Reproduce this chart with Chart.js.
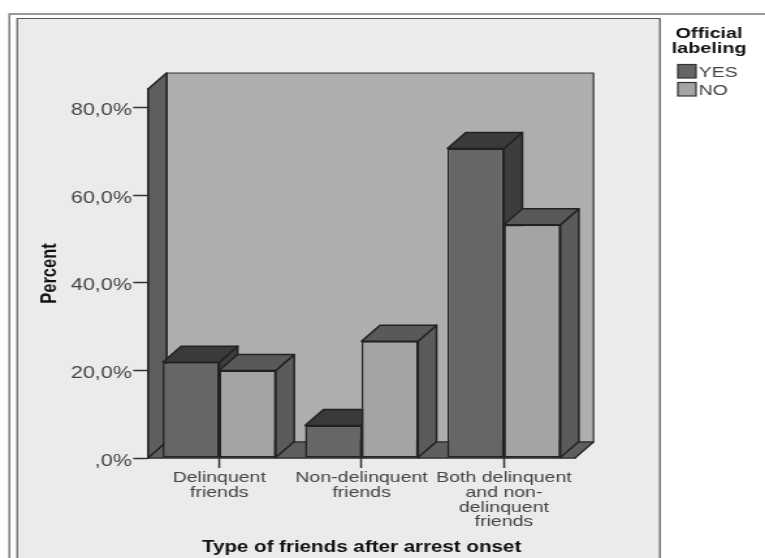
<!DOCTYPE html>
<html>
<head>
<meta charset="utf-8">
<title>Type of friends after arrest onset</title>
<style>
  html, body { margin: 0; padding: 0; background: #fff; overflow: hidden; width: 765px; height: 558px; }
  /* the chart is laid out narrow and widened as a whole, glyphs included */
  #chart { display: block; transform: scaleX(1.301); transform-origin: 0 0; }
</style>
<script src="https://cdn.jsdelivr.net/npm/chart.js@4"></script>
</head>
<body>
<canvas id="chart" width="588" height="558"></canvas>
<script>
const categories = [
    ['Delinquent', 'friends'],
    ['Non-delinquent', 'friends'],
    ['Both delinquent', 'and non-', 'delinquent', 'friends']
];
const seriesNames = ['YES', 'NO'];
const yesValues = [21.9, 7.4, 70.7];
const noValues = [20.0, 26.7, 53.3];
const yTickLabels = [',0%', '20,0%', '40,0%', '60,0%', '80,0%'];

const FONT = '"Liberation Sans", Arial, sans-serif';
const DEPTH_X = 14.2;
const DEPTH_Y = 16;
const EDGE = '#222';

const frontColors = ['#666666', '#a4a4a4'];
const topColors = ['#3a3a3a', '#595959'];
const sideColors = ['#3d3d3d', '#5b5b5b'];

function poly(ctx, pts, fill, stroke, width) {
    ctx.beginPath();
    pts.forEach((p, i) => i ? ctx.lineTo(p[0], p[1]) : ctx.moveTo(p[0], p[1]));
    ctx.closePath();
    if (fill) { ctx.fillStyle = fill; ctx.fill(); }
    if (stroke) { ctx.strokeStyle = stroke; ctx.lineWidth = width || 1.5; ctx.stroke(); }
}

// Page frames and panel background
const framePlugin = {
    id: 'frames',
    beforeDraw(chart) {
        const ctx = chart.ctx;
        ctx.save();
        ctx.fillStyle = '#fff';
        ctx.fillRect(0, 0, chart.width, chart.height);
        ctx.strokeStyle = '#777';
        ctx.lineWidth = 1.5;
        ctx.beginPath();
        ctx.moveTo(7.2, 558);
        ctx.lineTo(7.2, 14);
        ctx.lineTo(588, 14);
        ctx.stroke();
        ctx.fillStyle = '#ebebeb';
        ctx.fillRect(13.2, 18.5, 494, 540);
        ctx.strokeStyle = '#555';
        ctx.lineWidth = 1.2;
        ctx.beginPath();
        ctx.moveTo(13.2, 558);
        ctx.lineTo(13.2, 18.5);
        ctx.lineTo(507.2, 18.5);
        ctx.lineTo(507.2, 558);
        ctx.stroke();
        ctx.restore();
    }
};

// Back wall, left wall and floor of the box, then the top and side faces of each bar
const boxPlugin = {
    id: 'box3d',
    beforeDatasetsDraw(chart) {
        const ctx = chart.ctx;
        const { left, right, top, bottom } = chart.chartArea;
        ctx.save();
        ctx.lineJoin = 'round';
        poly(ctx, [[left + DEPTH_X, top - DEPTH_Y], [right + DEPTH_X, top - DEPTH_Y],
                   [right + DEPTH_X, bottom - DEPTH_Y], [left + DEPTH_X, bottom - DEPTH_Y]], '#aeaeae', '#333', 1.2);
        poly(ctx, [[left, top], [left + DEPTH_X, top - DEPTH_Y],
                   [left + DEPTH_X, bottom - DEPTH_Y], [left, bottom]], '#5e5e5e', EDGE, 1.5);
        poly(ctx, [[left, bottom], [left + DEPTH_X, bottom - DEPTH_Y],
                   [right + DEPTH_X, bottom - DEPTH_Y], [right, bottom]], '#5e5e5e', EDGE, 1.2);

        categories.forEach((c, i) => {
            chart.data.datasets.forEach((ds, d) => {
                const bar = chart.getDatasetMeta(d).data[i];
                const l = bar.x - bar.width / 2;
                const r = bar.x + bar.width / 2;
                poly(ctx, [[r, bar.y], [r + DEPTH_X, bar.y - DEPTH_Y],
                           [r + DEPTH_X, bar.base - DEPTH_Y], [r, bar.base]], sideColors[d], EDGE);
                poly(ctx, [[l, bar.y], [l + DEPTH_X, bar.y - DEPTH_Y],
                           [r + DEPTH_X, bar.y - DEPTH_Y], [r, bar.y]], topColors[d], EDGE);
            });
        });
        ctx.restore();
    }
};

// Legend on the right with a two line heading
const legendPlugin = {
    id: 'sideLegend',
    afterDraw(chart) {
        const ctx = chart.ctx;
        ctx.save();
        ctx.textAlign = 'center';
        ctx.textBaseline = 'middle';
        ctx.fillStyle = '#111';
        ctx.font = 'bold 15.2px ' + FONT;
        ctx.fillText('Official', 545, 34);
        ctx.fillText('labeling', 545, 49);
        ctx.textAlign = 'left';
        ctx.font = '15px ' + FONT;
        chart.data.datasets.forEach((ds, d) => {
            const y = 64.5 + d * 18;
            ctx.fillStyle = frontColors[d];
            ctx.fillRect(521, y, 14, 13.5);
            ctx.strokeStyle = '#333';
            ctx.lineWidth = 1.2;
            ctx.strokeRect(521, y, 14, 13.5);
            ctx.fillStyle = '#444';
            ctx.fillText(ds.label, 537, y + 8.5);
        });
        ctx.restore();
    }
};

new Chart(document.getElementById('chart'), {
    type: 'bar',
    data: {
        labels: categories,
        datasets: [
            { label: seriesNames[0], data: yesValues, backgroundColor: frontColors[0] },
            { label: seriesNames[1], data: noValues, backgroundColor: frontColors[1] }
        ]
    },
    plugins: [framePlugin, boxPlugin, legendPlugin],
    options: {
        responsive: false,
        animation: false,
        devicePixelRatio: 1,
        layout: { padding: { top: 89, right: 146, left: 0, bottom: 0 } },
        datasets: {
            bar: {
                categoryPercentage: 0.794,
                barPercentage: 1,
                borderColor: EDGE,
                borderWidth: 1.5,
                borderSkipped: false
            }
        },
        plugins: {
            legend: { display: false },
            tooltip: { enabled: false }
        },
        scales: {
            x: {
                afterFit(scale) { scale.height = 100; },
                grid: {
                    offset: false,
                    drawOnChartArea: false,
                    tickLength: 10,
                    tickColor: '#333',
                    tickWidth: 1.5
                },
                border: { color: '#333', width: 1.5 },
                ticks: {
                    autoSkip: false,
                    maxRotation: 0,
                    minRotation: 0,
                    padding: 3,
                    color: '#444',
                    font: { family: FONT, size: 15, lineHeight: 0.97 }
                },
                title: {
                    display: true,
                    text: 'Type of friends after arrest onset',
                    color: '#111',
                    font: { family: FONT, size: 15.8, weight: 'bold', lineHeight: 1.2 },
                    padding: { top: 0, bottom: 1 }
                }
            },
            y: {
                min: 0,
                max: 84.3,
                afterFit(scale) { scale.width = 113.8; },
                grid: {
                    drawOnChartArea: false,
                    tickLength: 11.5,
                    tickColor: '#333',
                    tickWidth: 1.5
                },
                border: { color: '#222', width: 1.5 },
                ticks: {
                    stepSize: 20,
                    includeBounds: false,
                    padding: 1,
                    labelOffset: 3,
                    color: '#444',
                    font: { family: FONT, size: 16.5 },
                    callback: (value, index) => yTickLabels[index]
                },
                title: {
                    display: true,
                    text: 'Percent',
                    color: '#111',
                    font: { family: FONT, size: 16.5, weight: 'bold', lineHeight: 1.2 },
                    padding: { top: 28.5, bottom: 0 }
                }
            }
        }
    }
});
</script>
</body>
</html>
